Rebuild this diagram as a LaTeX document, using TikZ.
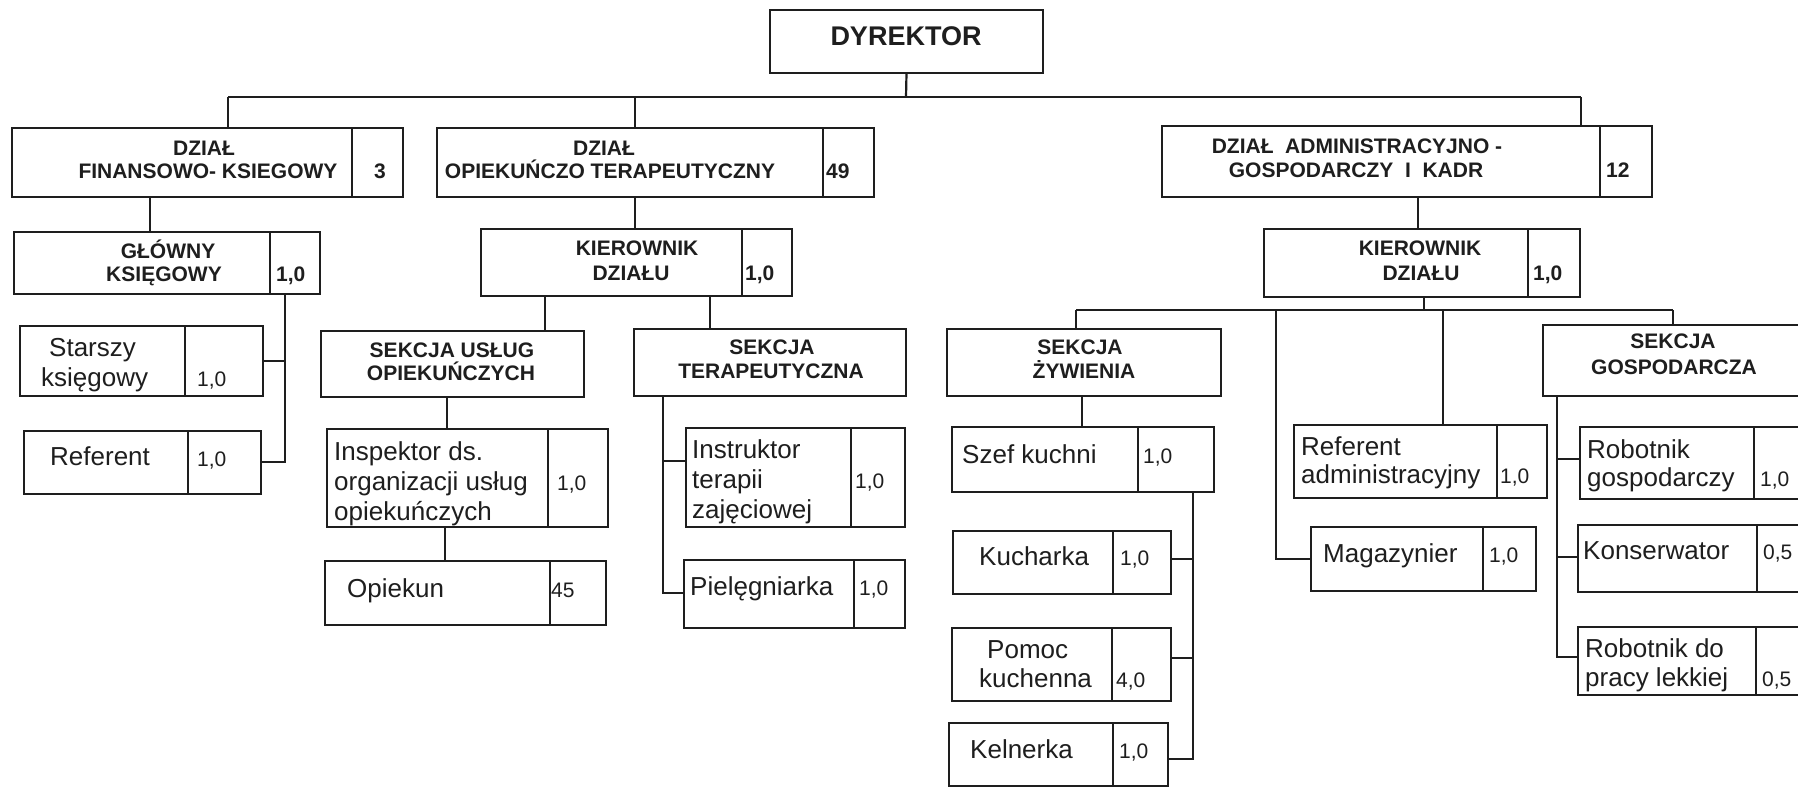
\documentclass[tikz,border=0pt]{standalone}
\usepackage{fontspec}
\setmainfont{Liberation Sans}
\definecolor{ink}{HTML}{1E1E1E}
\newcounter{tn}
\newcommand\tx[4]{\stepcounter{tn}\node[#1] (t\thetn) at (#2,#3) {#4};}
\newcommand\cellbox[5]{\node[box, minimum width={(#4-#2)*1pt}, minimum height={(#5-#3)*1pt}] (#1) at ({(#2+#4)/2},{(#3+#5)/2}) {};}
\newcommand\celldiv[6]{\cellbox{#1}{#2}{#3}{#4}{#5}\coordinate (#1d) at (#6,#3);\draw[boxline] (#1d) -- (#1d |- #1.south);}
\begin{document}
\begin{tikzpicture}[x=1pt,y=-1pt,
  box/.style={draw=ink, line width=2.6pt, inner sep=0pt, outer sep=0pt, rectangle},
  boxline/.style={draw=ink, line width=2.4pt},
  conn/.style={draw=ink, line width=2.2pt},
  hc/.style={anchor=base, inner sep=0pt, text=ink, font=\fontsize{21}{25}\selectfont\bfseries},
  nb/.style={anchor=base west, inner sep=0pt, text=ink, font=\fontsize{21}{25}\selectfont\bfseries},
  nbc/.style={anchor=base, inner sep=0pt, text=ink, font=\fontsize{21}{25}\selectfont\bfseries},
  rl/.style={anchor=base west, inner sep=0pt, text=ink, font=\fontsize{26}{30}\selectfont},
  nr/.style={anchor=base west, inner sep=0pt, text=ink, font=\fontsize{21}{25}\selectfont}]
\clip (0,0) rectangle (1798,787);
\fill[white] (0,0) rectangle (1798,787);
% ---------- boxes ----------
\cellbox{dyr}{770}{10}{1043}{73}
\celldiv{fin}{12}{128}{403}{197}{352}
\celldiv{opk}{437}{128}{874}{197}{823}
\celldiv{adm}{1162}{126}{1652}{197}{1600}
\celldiv{glw}{14}{232}{320}{294}{270}
\celldiv{kop}{481}{229}{792}{296}{742}
\celldiv{kad}{1264}{229}{1580}{297}{1528}
\celldiv{sta}{20}{326}{263}{396}{185}
\celldiv{ref}{24}{431}{261}{494}{188}
\cellbox{usl}{321}{331}{584}{397}
\cellbox{ter}{634}{329}{906}{396}
\celldiv{ins}{327}{429}{608}{527}{548}
\celldiv{opi}{325}{561}{606}{625}{550}
\celldiv{inst}{686}{428}{905}{527}{851}
\celldiv{pie}{684}{560}{905}{628}{854}
\cellbox{zyw}{947}{329}{1221}{396}
\celldiv{sze}{952}{427}{1214}{492}{1138}
\celldiv{kuc}{953}{531}{1171}{594}{1113}
\celldiv{pom}{952}{628}{1171}{701}{1112}
\celldiv{kel}{949}{723}{1168}{786}{1113}
\celldiv{mag}{1311}{527}{1536}{591}{1483}
\celldiv{rad}{1294}{425}{1547}{498}{1497}
\cellbox{gos}{1543}{325}{1812}{396}
\celldiv{rgo}{1580}{427}{1812}{499}{1754}
\celldiv{kon}{1578}{525}{1812}{592}{1757}
\celldiv{rlk}{1578}{627}{1812}{695}{1756}
% ---------- connectors ----------
\coordinate (b0) at (906,97);
\coordinate (bL) at (228,97);
\coordinate (bM) at (635,97);
\coordinate (bR) at (1581,97);
\draw[conn] (dyr.south) -- (b0);
\draw[conn] (bL) -- (bR);
\draw[conn] (bL) -- (bL |- fin.north);
\draw[conn] (bM) -- (bM |- opk.north);
\draw[conn] (bR) -- (bR |- adm.north);
\coordinate (x150) at (150,0);
\draw[conn] (fin.south -| x150) -- (glw.north -| x150);
\draw[conn] (opk.south -| bM) -- (kop.north -| bM);
\coordinate (x1418) at (1418,0);
\draw[conn] (adm.south -| x1418) -- (kad.north -| x1418);
% glowny ksiegowy branch
\coordinate (x285) at (285,0);
\coordinate (gs) at (285,361);
\coordinate (gr) at (285,462);
\draw[conn] (glw.south -| x285) -- (gr) -- (gr -| ref.east);
\draw[conn] (gs) -- (gs -| sta.east);
% kierownik opiek
\coordinate (x545) at (545,0);
\coordinate (x710) at (710,0);
\draw[conn] (kop.south -| x545) -- (usl.north -| x545);
\draw[conn] (kop.south -| x710) -- (ter.north -| x710);
\coordinate (x447) at (447,0);
\coordinate (x445) at (445,0);
\draw[conn] (usl.south -| x447) -- (ins.north -| x447);
\draw[conn] (ins.south -| x445) -- (opi.north -| x445);
\coordinate (ti) at (663,461);
\coordinate (tp) at (663,593);
\draw[conn] (ter.south -| ti) -- (tp) -- (tp -| pie.west);
\draw[conn] (ti) -- (ti -| inst.west);
% kierownik admin
\coordinate (k0) at (1424,310);
\coordinate (kL) at (1076,310);
\coordinate (kM1) at (1276,310);
\coordinate (kM2) at (1443,310);
\coordinate (kR) at (1673,310);
\draw[conn] (kad.south -| k0) -- (k0);
\draw[conn] (kL) -- (kR);
\draw[conn] (kL) -- (kL |- zyw.north);
\coordinate (mg) at (1276,559);
\draw[conn] (kM1) -- (mg) -- (mg -| mag.west);
\draw[conn] (kM2) -- (kM2 |- rad.north);
\draw[conn] (kR) -- (kR |- gos.north);
\coordinate (x1082) at (1082,0);
\draw[conn] (zyw.south -| x1082) -- (sze.north -| x1082);
\coordinate (s1) at (1193,559);
\coordinate (s2) at (1193,658);
\coordinate (s3) at (1193,759);
\draw[conn] (sze.south -| s1) -- (s3) -- (s3 -| kel.east);
\draw[conn] (s1) -- (s1 -| kuc.east);
\draw[conn] (s2) -- (s2 -| pom.east);
\coordinate (g1) at (1557,459);
\coordinate (g2) at (1557,557);
\coordinate (g3) at (1557,657);
\draw[conn] (gos.south -| g1) -- (g3) -- (g3 -| rlk.west);
\draw[conn] (g1) -- (g1 -| rgo.west);
\draw[conn] (g2) -- (g2 -| kon.west);
% ---------- texts ----------
\tx{anchor=base, inner sep=0pt, text=ink, font=\fontsize{27}{30}\selectfont\bfseries}{906}{45}{DYREKTOR}
\tx{hc}{204}{155}{DZIAŁ}
\tx{hc}{208}{178}{FINANSOWO- KSIEGOWY}
\tx{nbc}{380}{178}{3}
\tx{hc}{604}{155}{DZIAŁ}
\tx{hc}{610}{178}{OPIEKUŃCZO TERAPEUTYCZNY}
\tx{nb}{826}{178}{49}
\tx{hc}{1357}{153}{DZIAŁ\ \ ADMINISTRACYJNO -}
\tx{hc}{1356}{177}{GOSPODARCZY\ \ I\ \ KADR}
\tx{nb}{1606}{177}{12}
\tx{hc}{168}{258}{GŁÓWNY}
\tx{hc}{164}{281}{KSIĘGOWY}
\tx{nb}{276}{281}{1,0}
\tx{hc}{637}{255}{KIEROWNIK}
\tx{hc}{631}{280}{DZIAŁU}
\tx{nb}{745}{280}{1,0}
\tx{hc}{1420}{255}{KIEROWNIK}
\tx{hc}{1421}{280}{DZIAŁU}
\tx{nb}{1533}{280}{1,0}
\tx{rl}{49}{356}{Starszy}
\tx{rl}{41}{386}{księgowy}
\tx{nr}{197}{386}{1,0}
\tx{rl}{50}{465}{Referent}
\tx{nr}{197}{466}{1,0}
\tx{hc}{452}{357}{SEKCJA USŁUG}
\tx{hc}{451}{380}{OPIEKUŃCZYCH}
\tx{hc}{772}{354}{SEKCJA}
\tx{hc}{771}{378}{TERAPEUTYCZNA}
\tx{rl}{334}{460}{Inspektor ds.}
\tx{rl}{334}{490}{organizacji usług}
\tx{rl}{334}{520}{opiekuńczych}
\tx{nr}{557}{490}{1,0}
\tx{rl}{347}{597}{Opiekun}
\tx{nr}{551}{597}{45}
\tx{rl}{692}{458}{Instruktor}
\tx{rl}{692}{488}{terapii}
\tx{rl}{692}{518}{zajęciowej}
\tx{nr}{855}{488}{1,0}
\tx{rl}{690}{595}{Pielęgniarka}
\tx{nr}{859}{595}{1,0}
\tx{hc}{1080}{354}{SEKCJA}
\tx{hc}{1084}{378}{ŻYWIENIA}
\tx{rl}{962}{463}{Szef kuchni}
\tx{nr}{1143}{463}{1,0}
\tx{rl}{979}{565}{Kucharka}
\tx{nr}{1120}{565}{1,0}
\tx{rl}{987}{658}{Pomoc}
\tx{rl}{979}{687}{kuchenna}
\tx{nr}{1116}{687}{4,0}
\tx{rl}{970}{758}{Kelnerka}
\tx{nr}{1119}{758}{1,0}
\tx{rl}{1301}{455}{Referent}
\tx{rl}{1301}{483}{administracyjny}
\tx{nr}{1500}{483}{1,0}
\tx{rl}{1323}{562}{Magazynier}
\tx{nr}{1489}{562}{1,0}
\tx{hc}{1673}{348}{SEKCJA}
\tx{hc}{1674}{374}{GOSPODARCZA}
\tx{rl}{1587}{458}{Robotnik}
\tx{rl}{1587}{486}{gospodarczy}
\tx{nr}{1760}{486}{1,0}
\tx{rl}{1583}{559}{Konserwator}
\tx{nr}{1763}{559}{0,5}
\tx{rl}{1585}{657}{Robotnik do}
\tx{rl}{1585}{686}{pracy lekkiej}
\tx{nr}{1762}{686}{0,5}
\end{tikzpicture}
\end{document}
